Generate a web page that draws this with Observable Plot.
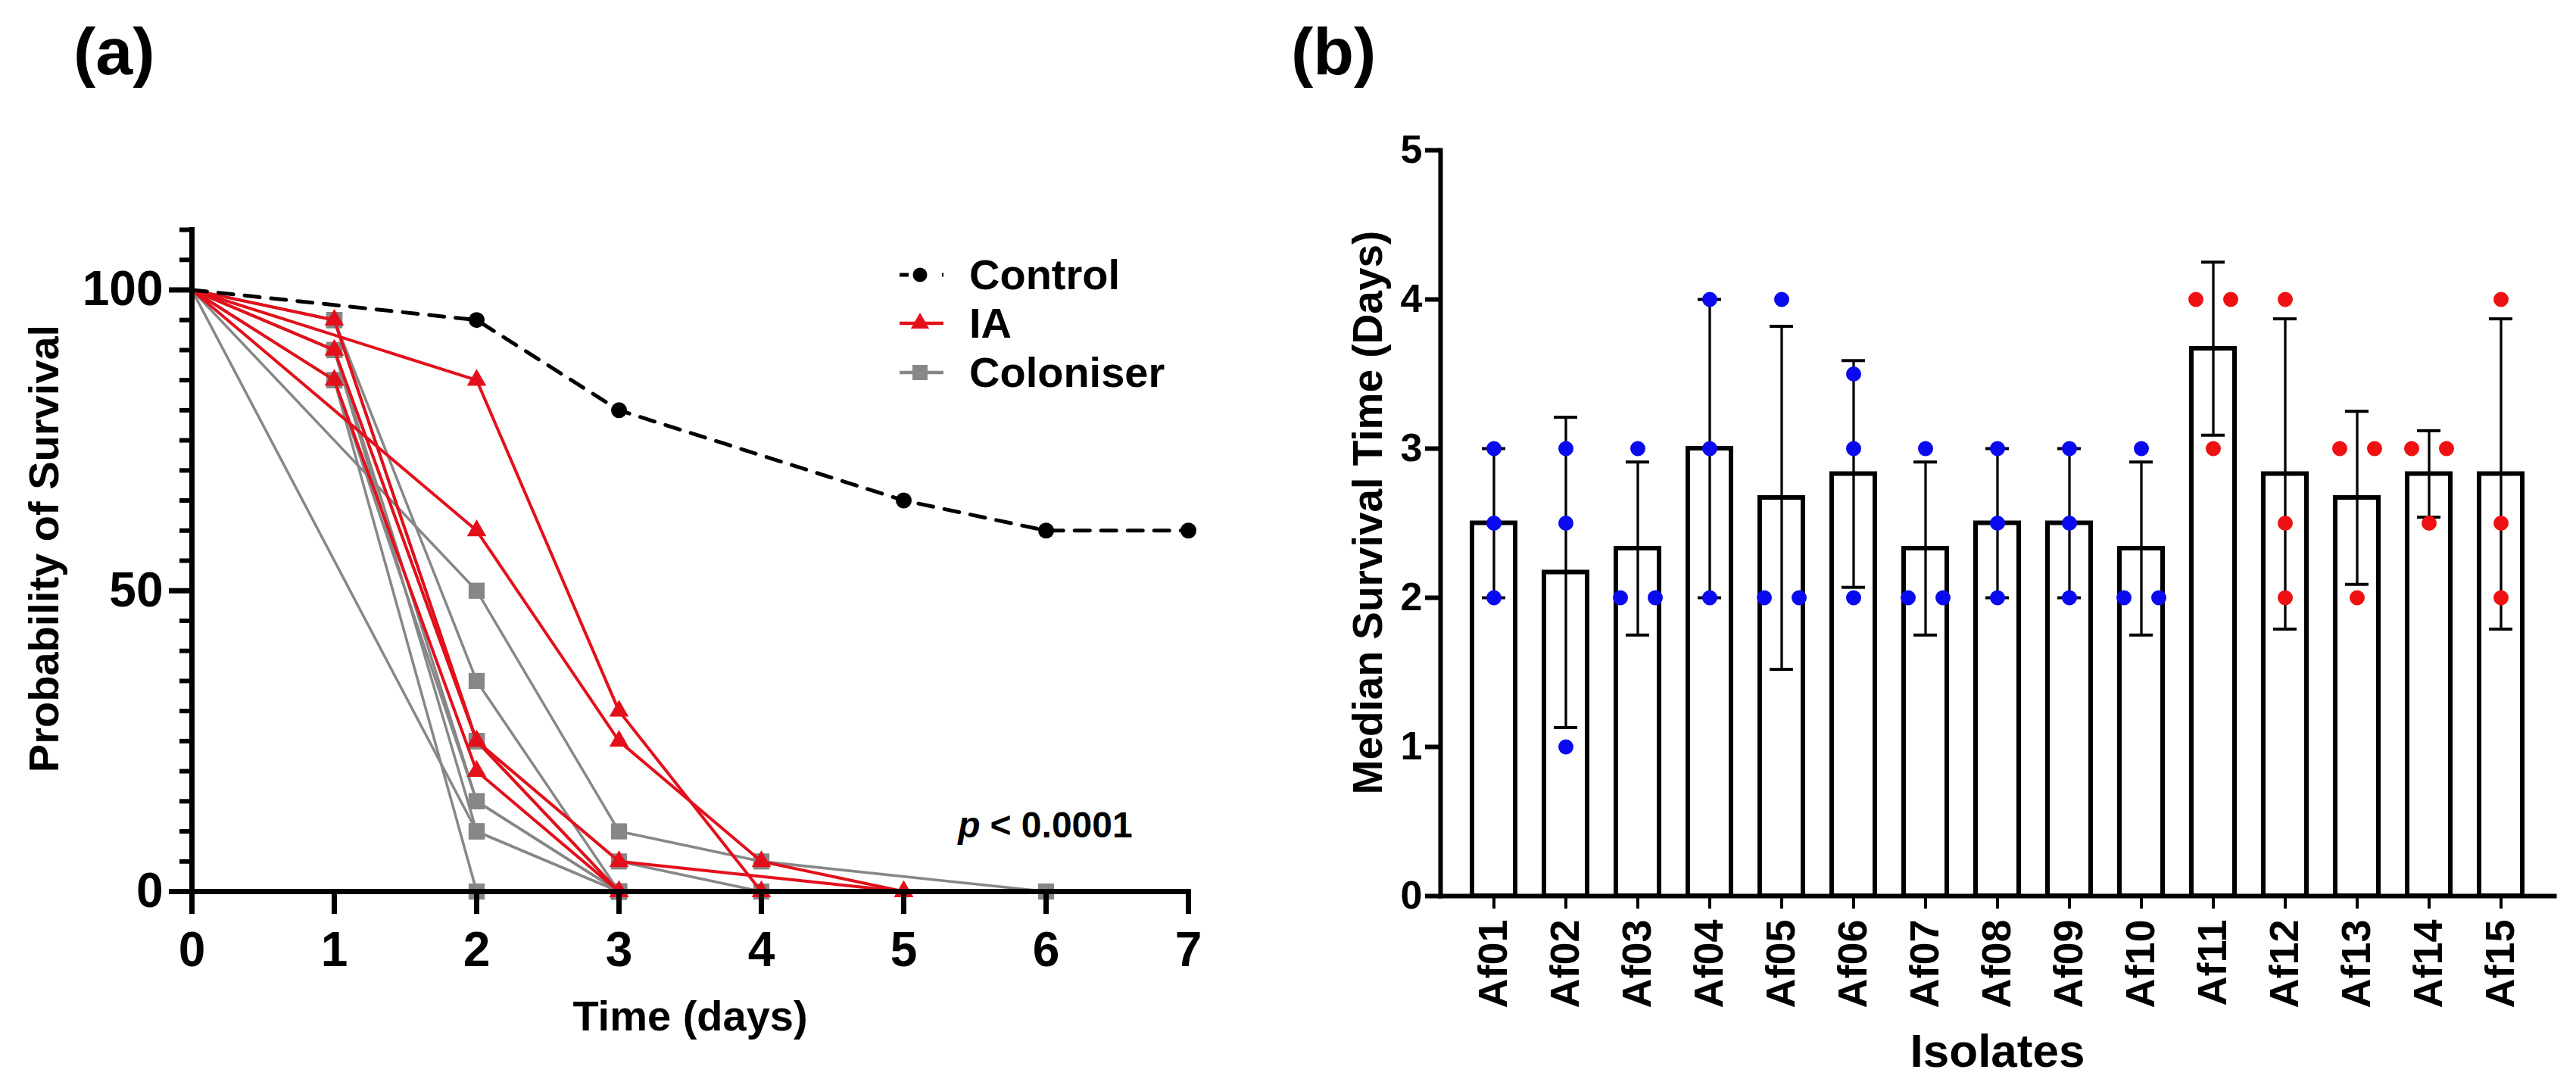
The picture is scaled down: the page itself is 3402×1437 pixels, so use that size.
<!DOCTYPE html>
<html><head><meta charset="utf-8">
<script src="https://cdn.jsdelivr.net/npm/d3@7"></script>
<script src="https://cdn.jsdelivr.net/npm/@observablehq/plot@0.6"></script>
<style>
body{margin:0;background:#fff;}
#fig{position:relative;width:3402px;height:1437px;overflow:hidden;font-family:"Liberation Sans",Arial,sans-serif;color:#000;background:#fff;}
.panel{position:absolute;top:0;}
.tag{position:absolute;font-size:88px;font-weight:bold;line-height:1;}
.leg{position:absolute;height:56px;display:flex;align-items:center;}
.leg svg{margin-right:32px;}
.leg span{font-size:56px;font-weight:bold;line-height:56px;}
</style></head><body><div id="fig"></div>
<script>
// ---------- Panel (a): survival curves ----------
const controlDays = [0, 2, 3, 5, 6, 7];
const controlSurv = [100, 95, 80, 65, 60, 60];

const iaDays = [[0,2,3,4],[0,2,3,4,5],[0,1,2,3,5],[0,1,2,3],[0,1,2,3]];
const iaSurv = [[100,85,30,0],[100,60,25,5,0],[100,95,25,5,0],[100,90,25,0],[100,85,20,0]];

const colDays = [[0,2,3],[0,2,3,4,6],[0,1,2,3],[0,1,2,3,4],[0,1,2,3],[0,1,2,3],[0,1,2],[0,1,2,3],[0,1,2,3],[0,1,2,3]];
const colSurv = [[100,10,0],[100,50,10,5,0],[100,95,35,0],[100,95,25,5,0],[100,90,15,0],[100,90,10,0],[100,85,0],[100,95,25,0],[100,85,15,0],[100,90,25,0]];

const xTicksA = [0, 1, 2, 3, 4, 5, 6, 7];
const yMajorA = [0, 50, 100];
const yMinorA = [5,10,15,20,25,30,35,40,45,55,60,65,70,75,80,85,90,95,105,110];
const legendNames = ["Control", "IA", "Coloniser"];
const pText = ["p", "< 0.0001"];
const xLabelA = "Time (days)";
const yLabelA = "Probability of Survival";

const colorA = {Control: "#000000", IA: "#e3101b", Coloniser: "#878787"};

function rows(group, daysList, survList) {
  const out = [];
  daysList.forEach((ds, i) => ds.forEach((d, j) => out.push({group, id: group + i, day: d, surv: survList[i][j]})));
  return out;
}
const controlRows = rows("Control", [controlDays], [controlSurv]);
const iaRows = rows("IA", iaDays, iaSurv);
const colRows = rows("Coloniser", colDays, colSurv);

const plotA = Plot.plot({
  width: 1650, height: 1437,
  marginLeft: 253, marginRight: 81, marginTop: 303, marginBottom: 260,
  style: {fontFamily: '"Liberation Sans", Arial, sans-serif', color: "#000", background: "transparent", overflow: "visible"},
  x: {domain: [0, 7]},
  y: {domain: [0, 110]},
  marks: [
    Plot.line(colRows, {x: "day", y: "surv", z: "id", stroke: colorA.Coloniser, strokeWidth: 3.5}),
    Plot.dot(colRows.filter(d => d.day > 0), {x: "day", y: "surv", symbol: "square", r: 12, fill: colorA.Coloniser}),
    Plot.line(iaRows, {x: "day", y: "surv", z: "id", stroke: colorA.IA, strokeWidth: 4}),
    Plot.dot(iaRows.filter(d => d.day > 0), {x: "day", y: "surv", symbol: "triangle", r: 9.5, fill: colorA.IA}),
    Plot.line(controlRows, {x: "day", y: "surv", stroke: colorA.Control, strokeWidth: 5, strokeDasharray: "20,15"}),
    Plot.dot(controlRows.filter(d => d.day > 0), {x: "day", y: "surv", r: 10.5, fill: colorA.Control}),
    Plot.axisY({ticks: yMinorA, tickSize: 16, strokeWidth: 6, tickFormat: () => "", label: null}),
    Plot.axisY({ticks: yMajorA, tickSize: 30, tickPadding: 8, strokeWidth: 7, fontSize: 64, fontWeight: "bold", label: null, tickFormat: d => String(d)}),
    Plot.axisX({ticks: xTicksA, tickSize: 30, tickPadding: 23, strokeWidth: 7, fontSize: 64, fontWeight: "bold", label: null, tickFormat: d => String(d)}),
    Plot.frame({anchor: "left", strokeWidth: 7}),
    Plot.frame({anchor: "bottom", strokeWidth: 7}),
    Plot.text([xLabelA], {frameAnchor: "bottom", dy: 166, fontSize: 56, fontWeight: "bold", textAnchor: "middle", lineAnchor: "middle"}),
    Plot.text([yLabelA], {frameAnchor: "left", rotate: -90, dx: -194, dy: -16, fontSize: 56, fontWeight: "bold", textAnchor: "middle", lineAnchor: "middle"}),
    Plot.text([pText[0]], {frameAnchor: "bottom-right", dx: -275, dy: -87, textAnchor: "end", lineAnchor: "middle", fontSize: 48, fontWeight: "bold", fontStyle: "italic"}),
    Plot.text([pText[1]], {frameAnchor: "bottom-right", dx: -262, dy: -87, textAnchor: "start", lineAnchor: "middle", fontSize: 48, fontWeight: "bold"})
  ]
});

// ---------- Panel (b): median survival per isolate ----------
const isolates = ["Af01","Af02","Af03","Af04","Af05","Af06","Af07","Af08","Af09","Af10","Af11","Af12","Af13","Af14","Af15"];
const isolateGroup = ["Coloniser","Coloniser","Coloniser","Coloniser","Coloniser","Coloniser","Coloniser","Coloniser","Coloniser","Coloniser","IA","IA","IA","IA","IA"];
const replicates = [[3,2.5,2],[3,2.5,1],[3,2,2],[4,3,2],[4,2,2],[3.5,3,2],[3,2,2],[3,2.5,2],[3,2.5,2],[3,2,2],[4,4,3],[4,2.5,2],[3,3,2],[3,3,2.5],[4,2.5,2]];
const barMean = [2.5, 2.17, 2.33, 3.0, 2.67, 2.83, 2.33, 2.5, 2.5, 2.33, 3.67, 2.83, 2.67, 2.83, 2.83];
const barSD = [0.5, 1.04, 0.58, 1.0, 1.15, 0.76, 0.58, 0.5, 0.5, 0.58, 0.58, 1.04, 0.58, 0.29, 1.04];
const yTicksB = [0, 1, 2, 3, 4, 5];
const xLabelB = "Isolates";
const yLabelB = "Median Survival Time (Days)";
const colorB = {Coloniser: "#0a0aee", IA: "#ee1111"};

const barRows = isolates.map((iso, i) => ({iso, mean: barMean[i], lo: barMean[i] - barSD[i], hi: barMean[i] + barSD[i]}));
const repRows = [];
isolates.forEach((iso, i) => {
  const vals = replicates[i];
  const seen = {};
  vals.forEach(v => {
    const count = vals.filter(w => w === v).length;
    let slot = 0;
    if (count > 1) { seen[v] = (seen[v] || 0) + 1; slot = seen[v] === 1 ? -1 : 1; }
    repRows.push({iso, value: v, slot, color: colorB[isolateGroup[i]]});
  });
});
const spread = 23;

const plotB = Plot.plot({
  width: 1702, height: 1437,
  marginLeft: 202, marginRight: 29, marginTop: 198, marginBottom: 254,
  style: {fontFamily: '"Liberation Sans", Arial, sans-serif', color: "#000", background: "transparent", overflow: "visible"},
  x: {type: "band", domain: isolates, padding: 0.4},
  y: {domain: [0, 5]},
  color: {type: "identity"},
  marks: [
    Plot.barY(barRows, {x: "iso", y: "mean", fill: "white", stroke: "black", strokeWidth: 6}),
    Plot.ruleX(barRows, {x: "iso", y1: "lo", y2: "hi", stroke: "black", strokeWidth: 3.3}),
    Plot.tickY(barRows, {x: "iso", y: "lo", stroke: "black", strokeWidth: 4, insetLeft: 13, insetRight: 13}),
    Plot.tickY(barRows, {x: "iso", y: "hi", stroke: "black", strokeWidth: 4, insetLeft: 13, insetRight: 13}),
    Plot.dot(repRows.filter(d => d.slot === 0), {x: "iso", y: "value", r: 10, fill: "color"}),
    Plot.dot(repRows.filter(d => d.slot === -1), {x: "iso", y: "value", r: 10, fill: "color", dx: -spread}),
    Plot.dot(repRows.filter(d => d.slot === 1), {x: "iso", y: "value", r: 10, fill: "color", dx: spread}),
    Plot.axisY({ticks: yTicksB, tickSize: 20, tickPadding: 4, strokeWidth: 6, fontSize: 52, fontWeight: "bold", label: null, tickFormat: d => String(d)}),
    Plot.axisX({tickSize: 17, tickPadding: 14, tickRotate: -90, strokeWidth: 4, fontSize: 54, fontWeight: "bold", label: null}),
    Plot.frame({anchor: "left", strokeWidth: 6}),
    Plot.frame({anchor: "bottom", strokeWidth: 6}),
    Plot.text([xLabelB], {frameAnchor: "bottom", dy: 206, fontSize: 62, fontWeight: "bold", textAnchor: "middle", lineAnchor: "middle"}),
    Plot.text([yLabelB], {frameAnchor: "left", rotate: -90, dx: -95, dy: -14, fontSize: 55, fontWeight: "bold", textAnchor: "middle", lineAnchor: "middle"})
  ]
});

const fig = document.getElementById("fig");
const wrapA = document.createElement("div"); wrapA.className = "panel"; wrapA.style.left = "0px"; wrapA.appendChild(plotA); fig.appendChild(wrapA);
const wrapB = document.createElement("div"); wrapB.className = "panel"; wrapB.style.left = "1700px"; wrapB.appendChild(plotB); fig.appendChild(wrapB);

function tag(txt, left) {
  const d = document.createElement("div"); d.className = "tag"; d.textContent = txt;
  d.style.left = left + "px"; d.style.top = "24px"; fig.appendChild(d);
}
tag("(a)", 97);
tag("(b)", 1705);

// legend for panel (a)
const legendCenters = [363, 427, 492];
const ns = "http://www.w3.org/2000/svg";
legendNames.forEach((name, i) => {
  const row = document.createElement("div"); row.className = "leg";
  row.style.left = "1186px"; row.style.top = (legendCenters[i] - 28) + "px";
  const s = document.createElementNS(ns, "svg"); s.setAttribute("width", 62); s.setAttribute("height", 40);
  const ln = document.createElementNS(ns, "line");
  ln.setAttribute("x1", 2); ln.setAttribute("x2", 60); ln.setAttribute("y1", 20); ln.setAttribute("y2", 20);
  ln.setAttribute("stroke", colorA[name]);
  ln.setAttribute("stroke-width", name === "Control" ? 5 : 4.5);
  if (name === "Control") ln.setAttribute("stroke-dasharray", "12,44");
  s.appendChild(ln);
  const cx = 29, cy = 20;
  let sym;
  if (name === "Control") {
    sym = document.createElementNS(ns, "circle"); sym.setAttribute("cx", cx); sym.setAttribute("cy", cy); sym.setAttribute("r", 9.5);
  } else if (name === "IA") {
    sym = document.createElementNS(ns, "path");
    sym.setAttribute("d", d3.symbol(d3.symbolTriangle, Math.PI * 81)().toString());
    sym.setAttribute("transform", `translate(${cx},${cy})`);
  } else {
    sym = document.createElementNS(ns, "rect"); sym.setAttribute("x", cx - 10); sym.setAttribute("y", cy - 10); sym.setAttribute("width", 20); sym.setAttribute("height", 20);
  }
  sym.setAttribute("fill", colorA[name]);
  s.appendChild(sym);
  row.appendChild(s);
  const sp = document.createElement("span"); sp.textContent = name; row.appendChild(sp);
  fig.appendChild(row);
});
</script></body></html>
